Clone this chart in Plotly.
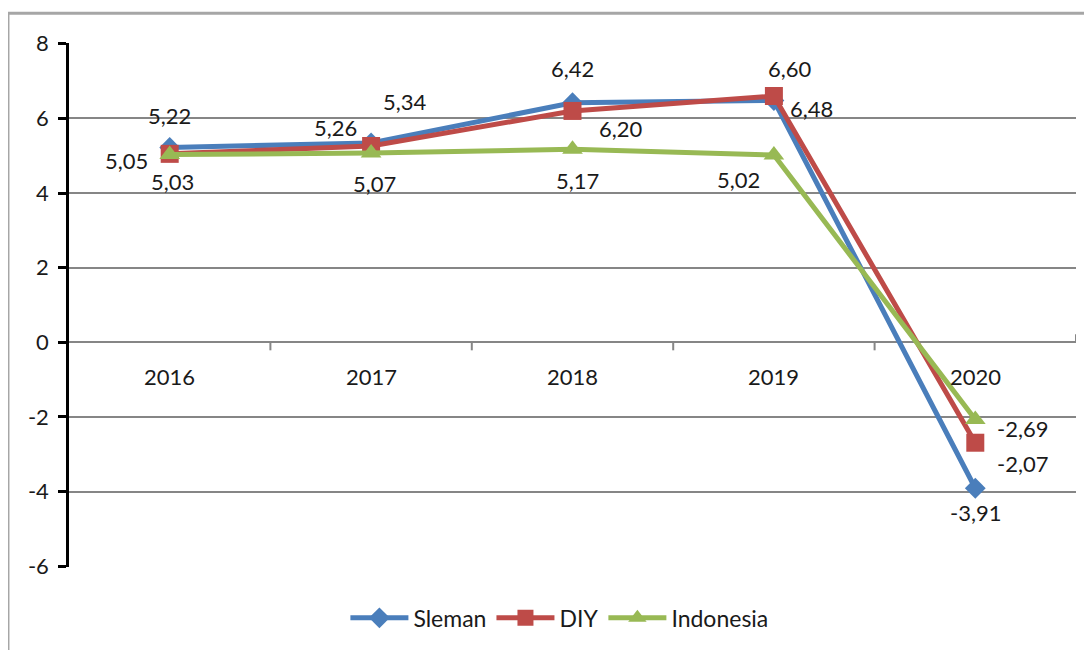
import plotly.graph_objects as go

years = ["2016", "2017", "2018", "2019", "2020"]
sleman = [5.22, 5.34, 6.42, 6.48, -3.91]
diy = [5.05, 5.26, 6.20, 6.60, -2.69]
indonesia = [5.03, 5.07, 5.17, 5.02, -2.07]
ytick_vals = [-6, -4, -2, 0, 2, 4, 6, 8]

FONT = "Lato"
xpos = list(range(len(years)))

# label offsets in pixels (dx, dy up) per point, as placed in the original
off_sleman = [(0, 32), (34, 42), (0, 34), (38, -8), (0, -24)]
off_diy = [(-43, -7), (-36, 19), (48, -18), (16, 28), (47, 14)]
off_indo = [(3, -27), (3, -30), (5, -31), (-35, -25), (47, -44)]

series = [
    ("Sleman", sleman, "#4A7EBB", "diamond", 16, off_sleman),
    ("DIY", diy, "#BE4B48", "square", 18, off_diy),
    ("Indonesia", indonesia, "#98B954", "triangle-up", 18, off_indo),
]

fig = go.Figure()
for name, vals, color, sym, size, offs in series:
    fig.add_trace(go.Scatter(
        x=xpos, y=vals, name=name, mode="lines+markers",
        line=dict(color=color, width=5),
        marker=dict(symbol=sym, size=size, color=color),
    ))
    for xi, v, (dx, dy) in zip(xpos, vals, offs):
        fig.add_annotation(
            x=xi, y=v, xref="x", yref="y",
            text=f"{v:.2f}".replace(".", ","),
            showarrow=False, xshift=dx, yshift=dy,
            font=dict(family=FONT, size=22, color="#1a1a1a"),
        )

# category labels just below the zero line
for xi, yr in zip(xpos, years):
    fig.add_annotation(x=xi, y=0, xref="x", yref="y", text=yr,
                       showarrow=False, yshift=-34,
                       font=dict(family=FONT, size=22, color="#1a1a1a"))

# grey frame around the chart object
frame = "#A6A6A6"
fig.add_shape(type="line", xref="paper", yref="paper", x0=-0.0606, x1=1.02,
              y0=1.057, y1=1.057, line=dict(color=frame, width=3))
fig.add_shape(type="line", xref="paper", yref="paper", x0=-0.0606, x1=-0.0606,
              y0=1.057, y1=-0.16, line=dict(color=frame, width=3))
# category boundary ticks on the zero line
for b in [0.5, 1.5, 2.5, 3.5]:
    fig.add_shape(type="line", xref="x", yref="y", x0=b, x1=b,
                  ysizemode="pixel", yanchor=0, y0=0, y1=-8,
                  line=dict(color="#868686", width=2))
fig.add_shape(type="line", xref="x", yref="y", x0=4.5, x1=4.5,
              ysizemode="pixel", yanchor=0, y0=0, y1=8,
              line=dict(color="#868686", width=2))

# page body adds an 8px margin, so the figure is 8px smaller
fig.update_layout(
    width=1084, height=642,
    margin=dict(l=61, r=16, t=35, b=82),
    paper_bgcolor="white", plot_bgcolor="white",
    font=dict(family=FONT, size=21, color="#1a1a1a"),
    showlegend=True,
    legend=dict(orientation="h", x=0.487, xanchor="center", y=-0.095,
                yanchor="middle", font=dict(size=23), itemwidth=58,
                traceorder="normal"),
    xaxis=dict(
        range=[-0.5, 4.5], showgrid=False, showline=False, zeroline=False,
        showticklabels=False, ticks="", automargin=False,
    ),
    yaxis=dict(
        range=[-6.02, 8.02], tickvals=ytick_vals,
        ticktext=[str(v) for v in ytick_vals],
        showgrid=True, gridcolor="#868686", gridwidth=1.5,
        zeroline=False, automargin=False,
        showline=True, linecolor="black", linewidth=2.5,
        ticks="outside", ticklen=8, tickwidth=2.5, tickcolor="black",
        ticklabelstandoff=5,
        tickfont=dict(family=FONT, size=22),
    ),
)

fig.write_html("out.html")
